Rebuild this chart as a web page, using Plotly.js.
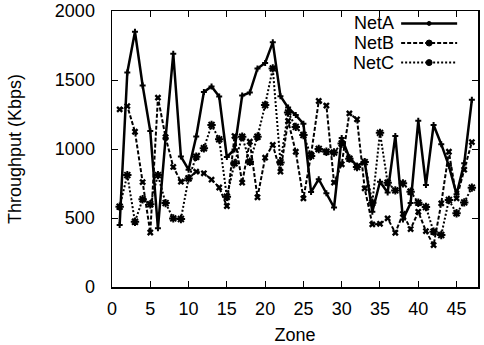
<!DOCTYPE html>
<html>
<head>
<meta charset="utf-8">
<script src="https://cdn.plot.ly/plotly-3.0.1.min.js"></script>
<style>
  html, body { margin: 0; padding: 0; background: #fff; }
  #chart { width: 484px; height: 345px; }
</style>
</head>
<body>
<div id="chart"></div>
<script>
// Zone indices
const zones = [1,2,3,4,5,6,7,8,9,10,11,12,13,14,15,16,17,18,19,20,21,22,23,24,25,26,27,28,29,30,31,32,33,34,35,36,37,38,39,40,41,42,43,44,45,46,47];

// Throughput (Kbps)
const netA = [450,1555,1850,1460,1130,425,1080,1690,945,850,1090,1413,1453,1380,942,997,1388,1409,1584,1623,1773,1383,1300,1246,1183,688,781,679,576,1080,938,878,908,545,763,685,1095,490,608,1204,740,1174,1035,878,672,896,1357];
const netB = [1287,1311,1125,760,395,1372,1085,870,763,787,836,824,778,721,587,1094,756,1053,650,937,1029,836,1203,980,642,960,1348,1315,756,889,1258,1215,715,454,458,497,393,530,420,545,405,304,606,980,642,850,1050];
const netC = [582,811,473,636,600,811,608,497,493,787,944,1005,1174,1070,654,896,1089,908,1089,1319,1584,903,1265,1160,1101,950,1000,980,975,1040,930,870,905,610,1117,756,700,751,690,611,580,401,377,630,534,613,720];

const seriesNames = ["NetA", "NetB", "NetC"];
const xTicks = [0,5,10,15,20,25,30,35,40,45];
const yTicks = [0,500,1000,1500,2000];

const FONT = "Liberation Sans, Arial, Helvetica, sans-serif";
const FS = 18;

const styles = [
  { line: { color: "#000", width: 2.5, dash: "solid" }, marker: { symbol: "cross", size: 5, color: "#000" } },
  { line: { color: "#000", width: 2, dash: "4px,2px" }, marker: { symbol: "x", size: 6, color: "#000" } },
  { line: { color: "#000", width: 2, dash: "2px,2px" }, marker: { symbol: "asterisk-open", size: 7, color: "#000", line: { color: "#000", width: 2 } } }
];
const dataSets = [netA, netB, netC];

const traces = dataSets.map((ys, i) => ({
  x: zones, y: ys, name: seriesNames[i], type: "scatter", mode: "lines+markers",
  line: styles[i].line, marker: styles[i].marker, showlegend: false
}));

// gnuplot-style key: label right-aligned, then a sample of the line to its right
const keyTop = 0.955, keyStep = 0.071;   // paper fractions
const keyTextX = 0.775, keyLineX0 = 0.79, keyLineX1 = 0.943;
const annotations = seriesNames.map((n, i) => ({
  xref: "paper", yref: "paper", x: keyTextX, y: keyTop - i * keyStep,
  xanchor: "right", yanchor: "middle", showarrow: false, text: n,
  font: { family: FONT, size: FS, color: "#000" }
}));
const shapes = [];
seriesNames.forEach((n, i) => {
  const yy = keyTop - i * keyStep;
  shapes.push({
    type: "line", xref: "paper", yref: "paper", x0: keyLineX0, x1: keyLineX1, y0: yy, y1: yy,
    line: { color: "#000", width: styles[i].line.width, dash: styles[i].line.dash }
  });
  const mx = (keyLineX0 + keyLineX1) / 2;
  const r = i === 0 ? 2 : 3;
  shapes.push({
    type: "circle", xref: "paper", yref: "paper", xsizemode: "pixel", ysizemode: "pixel",
    xanchor: mx, yanchor: yy, x0: -r, x1: r, y0: -r, y1: r,
    fillcolor: "#000", line: { color: "#000", width: 1 }
  });
});

const layout = {
  width: 484, height: 345,
  margin: { l: 112, r: 6, t: 11, b: 58, pad: 0 },
  paper_bgcolor: "#fff", plot_bgcolor: "#fff",
  font: { family: FONT, size: FS, color: "#000" },
  showlegend: false,
  annotations: annotations,
  shapes: shapes,
  xaxis: {
    range: [0, 47.8],
    tickvals: xTicks, ticktext: xTicks.map(String),
    ticks: "inside", ticklen: 6, tickwidth: 1, tickcolor: "#000",
    showline: true, linecolor: "#000", linewidth: 1.5, mirror: "ticks",
    showgrid: false, zeroline: false,
    ticklabelstandoff: 5,
    tickfont: { family: FONT, size: FS },
    title: { text: "Zone", font: { family: FONT, size: FS }, standoff: 10 }
  },
  yaxis: {
    range: [0, 2000],
    tickvals: yTicks, ticktext: yTicks.map(String),
    ticks: "inside", ticklen: 6, tickwidth: 1, tickcolor: "#000",
    showline: true, linecolor: "#000", linewidth: 1.5, mirror: "ticks",
    showgrid: false, zeroline: false,
    ticklabelstandoff: 12,
    tickfont: { family: FONT, size: FS },
    title: { text: "Throughput (Kbps)", font: { family: FONT, size: FS }, standoff: 28 }
  }
};

Plotly.newPlot("chart", traces, layout, { staticPlot: true, displayModeBar: false });
</script>
</body>
</html>
